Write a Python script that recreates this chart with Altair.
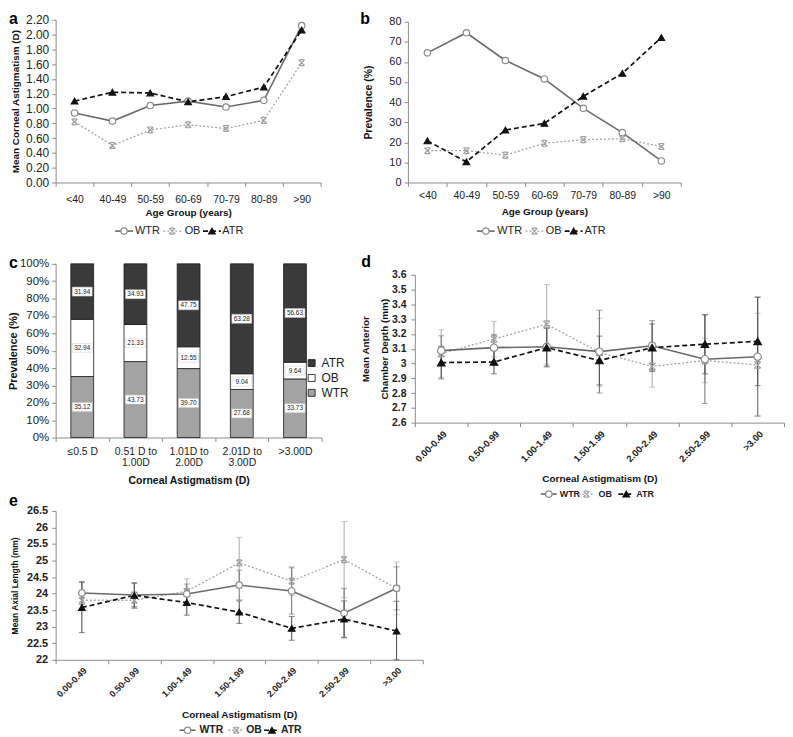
import altair as alt
import pandas as pd

SERIES = ["WTR", "OB", "ATR"]

# ---------------- panel a / b : by age group ----------------
AGE_GROUPS = ["<40", "40-49", "50-59", "60-69", "70-79", "80-89", ">90"]
A_WTR = [0.94, 0.83, 1.04, 1.10, 1.02, 1.11, 2.12]
A_OB = [0.82, 0.50, 0.71, 0.78, 0.73, 0.84, 1.62]
A_ATR = [1.10, 1.22, 1.21, 1.09, 1.16, 1.29, 2.06]
A_TICKS = [0.0, 0.2, 0.4, 0.6, 0.8, 1.0, 1.2, 1.4, 1.6, 1.8, 2.0, 2.2]

B_WTR = [64.5, 74.5, 60.7, 51.5, 36.9, 24.8, 10.7]
B_OB = [15.8, 15.8, 13.6, 19.5, 21.3, 21.8, 17.9]
B_ATR = [20.7, 10.3, 26.1, 29.4, 42.9, 54.3, 72.1]
B_TICKS = [0, 10, 20, 30, 40, 50, 60, 70, 80]

# ---------------- panel c : stacked prevalence ----------------
C_GROUPS = ["≤0.5 D", "0.51 D to\n1.00D", "1.01D to\n2.00D", "2.01D to\n3.00D", ">3.00D"]
C_WTR = [35.12, 43.73, 39.70, 27.68, 33.73]
C_OB = [32.94, 21.33, 12.55, 9.04, 9.64]
C_ATR = [31.94, 34.93, 47.75, 63.28, 56.63]
C_TICKS = [0, 10, 20, 30, 40, 50, 60, 70, 80, 90, 100]

# ---------------- panel d / e : by corneal astigmatism ----------------
CA_GROUPS = ["0.00-0.49", "0.50-0.99", "1.00-1.49", "1.50-1.99", "2.00-2.49", "2.50-2.99", ">3.00"]
D_WTR = [3.087, 3.107, 3.113, 3.080, 3.120, 3.029, 3.046]
D_WTR_SD = [0.10, 0.09, 0.13, 0.28, 0.17, 0.30, 0.40]
D_OB = [3.067, 3.165, 3.265, 3.075, 2.980, 3.020, 2.990]
D_OB_SD = [0.16, 0.12, 0.27, 0.23, 0.14, 0.15, 0.35]
D_ATR = [3.006, 3.010, 3.107, 3.020, 3.107, 3.130, 3.150]
D_ATR_SD = [0.11, 0.08, 0.13, 0.165, 0.16, 0.20, 0.30]
D_TICKS = [2.6, 2.7, 2.8, 2.9, 3.0, 3.1, 3.2, 3.3, 3.4, 3.5, 3.6]

E_WTR = [24.02, 23.96, 23.99, 24.26, 24.08, 23.41, 24.16]
E_WTR_SD = [0.35, 0.35, 0.30, 0.45, 0.70, 0.75, 0.65]
E_OB = [23.80, 23.80, 24.07, 24.93, 24.38, 25.03, 24.16]
E_OB_SD = [0.30, 0.25, 0.38, 0.77, 0.43, 1.15, 0.80]
E_ATR = [23.58, 23.95, 23.73, 23.44, 22.95, 23.23, 22.87]
E_ATR_SD = [0.76, 0.38, 0.38, 0.34, 0.36, 0.55, 0.90]
E_TICKS = [22, 22.5, 23, 23.5, 24, 24.5, 25, 25.5, 26, 26.5]


def long_df(cats, means, sds=None):
    rows = []
    for k, s in enumerate(SERIES):
        for i, c in enumerate(cats):
            row = {"cat": c, "series": s, "order": k, "value": means[k][i]}
            if sds is not None:
                row["sd"] = sds[k][i]
            rows.append(row)
    return pd.DataFrame(rows)


XMARK = "M-1,-1L1,1M-1,1L1,-1M-0.7,-1L0.7,-1M-0.7,1L0.7,1"
BOX = "M-1,-0.45L1,-0.45L1,0.45L-1,0.45Z"
STYLE = {
    "WTR": {"line": "#6a6a6a", "width": 1.6, "dash": None, "shape": "circle",
            "fill": "#ffffff", "stroke": "#8a8a8a", "size": 42, "err": "#7a7a7a"},
    "OB": {"line": "#a3a3a3", "width": 1.3, "dash": [2, 2], "shape": XMARK,
           "fill": None, "stroke": "#a0a0a0", "size": 36, "err": "#b0b0b0"},
    "ATR": {"line": "#111111", "width": 1.7, "dash": [5, 3], "shape": "triangle-up",
            "fill": "#111111", "stroke": "#111111", "size": 44, "err": "#555555"},
}
C_FILL = {"WTR": "#a3a3a3", "OB": "#ffffff", "ATR": "#3a3a3a"}
ONE = pd.DataFrame({"k": [0]})


def line_kw(s):
    st = STYLE[s]
    kw = dict(color=st["line"], strokeWidth=st["width"])
    if st["dash"]:
        kw["strokeDash"] = st["dash"]
    return kw


def point_kw(s, scale=1.0):
    st = STYLE[s]
    kw = dict(shape=st["shape"], size=st["size"] * scale, stroke=st["stroke"],
              strokeWidth=1.2, opacity=1)
    if st["fill"]:
        kw.update(filled=True, fill=st["fill"])
    else:
        kw.update(filled=False)
    return kw


def legend_layers(items, y, font_size, bold, seg):
    out = []
    for s, xm, xt in items:
        base = alt.Chart(ONE)
        out.append(base.mark_rule(**line_kw(s)).encode(
            x=alt.value(xm - seg), x2=alt.value(xm + seg), y=alt.value(y)))
        out.append(base.mark_point(**point_kw(s)).encode(x=alt.value(xm), y=alt.value(y)))
        out.append(base.mark_text(text=s, align="left", baseline="middle", fontSize=font_size,
                                  fontWeight="bold" if bold else "normal", color="#222").encode(
            x=alt.value(xt), y=alt.value(y)))
    return out


def letter(ch, x, y):
    return alt.Chart(ONE).mark_text(text=ch, align="left", baseline="top", fontSize=16,
                                    fontWeight="bold", color="#000").encode(
        x=alt.value(x), y=alt.value(y))


def line_panel(df, cats, x_scale, x_axis, y_scale, y_axis, extra, err_floor=None, mscale=1.0):
    def X():
        return alt.X("cat:N", sort=cats, scale=x_scale, axis=x_axis)

    def Y(f):
        return alt.Y(f, scale=y_scale, axis=y_axis)

    layers = []
    order = ["OB", "WTR", "ATR"]
    if err_floor is not None:
        for s in order:
            col = STYLE[s]["err"]
            eb = alt.Chart(df).transform_filter(alt.datum.series == s).transform_calculate(
                lo=f"max(datum.value - datum.sd, {err_floor})", hi="datum.value + datum.sd")
            layers.append(eb.mark_rule(color=col, strokeWidth=1.1).encode(x=X(), y=Y("lo:Q"), y2="hi:Q"))
            layers.append(eb.mark_tick(color=col, size=6, thickness=1).encode(x=X(), y=Y("lo:Q")))
            layers.append(eb.mark_tick(color=col, size=6, thickness=1).encode(x=X(), y=Y("hi:Q")))
    for s in order:
        sub = alt.Chart(df).transform_filter(alt.datum.series == s)
        layers.append(sub.mark_line(**line_kw(s)).encode(x=X(), y=Y("value:Q")))
    for s in order:
        sub = alt.Chart(df).transform_filter(alt.datum.series == s)
        layers.append(sub.mark_point(**point_kw(s, mscale)).encode(x=X(), y=Y("value:Q")))
    return alt.layer(*(layers + extra))


# ---------- panel a ----------
band = dict(type="band", paddingInner=0, paddingOuter=0)
pa = line_panel(
    long_df(AGE_GROUPS, [A_WTR, A_OB, A_ATR]), AGE_GROUPS,
    alt.Scale(**band),
    alt.Axis(title="Age Group (years)", labelAngle=0, tickBand="extent", labelBaseline="middle",
             labelPadding=13, labelFontSize=10.5, titleY=30.5, titleBaseline="middle", titleFontSize=10),
    alt.Scale(domain=[0, 2.2], nice=False),
    alt.Axis(title="Mean Corneal Astigmatism (D)", values=A_TICKS, format=".2f", labelPadding=3,
             labelFontSize=12, titleX=-35, titleFontSize=10),
    legend_layers([("WTR", 69, 80), ("OB", 117.5, 130), ("ATR", 157.5, 168)], 213, 11, False, 9)
    + [letter("a", -47, -9)],
).properties(width=267, height=164)

# ---------- panel b ----------
pb = line_panel(
    long_df(AGE_GROUPS, [B_WTR, B_OB, B_ATR]), AGE_GROUPS,
    alt.Scale(**band),
    alt.Axis(title="Age Group (years)", labelAngle=0, tickBand="extent", labelBaseline="middle",
             labelPadding=9, labelFontSize=10.5, titleY=29.5, titleBaseline="middle", titleFontSize=10),
    alt.Scale(domain=[0, 80], nice=False, range=[164, 2]),
    alt.Axis(title="Prevalence (%)", values=B_TICKS, labelPadding=3, labelFontSize=11,
             titleX=-35, titleFontSize=10.5),
    legend_layers([("WTR", 78.5, 90), ("OB", 127.5, 139), ("ATR", 167, 178)], 213, 11, False, 9)
    + [letter("b", -48, -9)],
).properties(width=275, height=164)

# ---------- panel c ----------
dfc = long_df(C_GROUPS, [C_WTR, C_OB, C_ATR])
xc = alt.X("cat:N", sort=C_GROUPS, scale=alt.Scale(**band),
           axis=alt.Axis(title="Corneal Astigmatism (D)", labelAngle=0, tickBand="extent",
                         labelExpr="split(datum.label, '\\n')", labelBaseline="top",
                         labelPadding=5, labelLineHeight=11, labelFontSize=10.5,
                         titleY=43, titleBaseline="middle", titleFontSize=10.5))
yc_scale = alt.Scale(domain=[0, 100], nice=False, range=[183, 8])
yc_axis = alt.Axis(title="Prevalence (%)", values=C_TICKS, labelExpr="datum.value + '%'",
                   labelPadding=3, labelFontSize=11.5, titleX=-37, titleFontSize=11)
bars = alt.Chart(dfc).mark_bar(width=23, stroke="#1a1a1a", strokeWidth=0.8).encode(
    x=xc,
    y=alt.Y("value:Q", stack="zero", scale=yc_scale, axis=yc_axis),
    color=alt.Color("series:N", scale=alt.Scale(domain=SERIES, range=[C_FILL[s] for s in SERIES]),
                    legend=None),
    order=alt.Order("order:Q", sort="ascending"),
)
lab = alt.Chart(dfc).transform_stack(
    stack="value", groupby=["cat"], as_=["v0", "v1"],
    sort=[alt.SortField("order", order="ascending")],
).transform_calculate(mid="(datum.v0 + datum.v1) / 2")
boxes = lab.mark_point(shape=BOX, size=400, filled=True, fill="#ffffff", stroke="#cfcfcf",
                       strokeWidth=0.5, opacity=1).encode(
    x=xc, y=alt.Y("mid:Q", scale=yc_scale, axis=yc_axis))
texts = lab.mark_text(fontSize=6.5, color="#222", baseline="middle").encode(
    x=xc, y=alt.Y("mid:Q", scale=yc_scale, axis=yc_axis), text=alt.Text("value:Q", format=".2f"))
c_leg = []
for s, yy in zip(["ATR", "OB", "WTR"], [108, 123, 138]):
    c_leg.append(alt.Chart(ONE).mark_point(shape="square", size=49, filled=True, fill=C_FILL[s],
                                           stroke="#111", strokeWidth=0.8, opacity=1).encode(
        x=alt.value(258), y=alt.value(yy)))
    c_leg.append(alt.Chart(ONE).mark_text(text=s, align="left", baseline="middle", fontSize=12,
                                          color="#222").encode(x=alt.value(268), y=alt.value(yy)))
pc = alt.layer(bars, boxes, texts, *c_leg, letter("c", -47, -1)).properties(width=268, height=183)

# ---------- panel d ----------
pd_ = line_panel(
    long_df(CA_GROUPS, [D_WTR, D_OB, D_ATR], [D_WTR_SD, D_OB_SD, D_ATR_SD]), CA_GROUPS,
    alt.Scale(range=[7, 379], **band),
    alt.Axis(title="Corneal Astigmatism (D)", labelAngle=315, labelAlign="right", labelBaseline="top",
             labelFontWeight="bold", labelFontSize=9.5, labelPadding=2, tickBand="extent",
             titleY=56, titleBaseline="middle", titleFontSize=10),
    alt.Scale(domain=[2.6, 3.6], nice=False, zero=False, range=[168, 19]),
    alt.Axis(title=["Mean Anterior", "Chamber Depth (mm)"], values=D_TICKS, format="~g", offset=-7,
             labelFontWeight="bold", labelFontSize=10.5, labelPadding=5, titleX=-45,
             titleFontSize=10, titleLineHeight=19),
    legend_layers([("WTR", 142, 153), ("OB", 180, 192), ("ATR", 220, 230)], 240, 9, True, 8)
    + [letter("d", -47, -2)],
    err_floor=2.6, mscale=1.3,
).properties(width=379, height=168)

# ---------- panel e ----------
pe = line_panel(
    long_df(CA_GROUPS, [E_WTR, E_OB, E_ATR], [E_WTR_SD, E_OB_SD, E_ATR_SD]), CA_GROUPS,
    alt.Scale(range=[0, 370], **band),
    alt.Axis(title="Corneal Astigmatism (D)", labelAngle=315, labelAlign="right", labelBaseline="top",
             labelFontWeight="bold", labelFontSize=9, labelPadding=2, tickBand="extent",
             titleY=55, titleBaseline="middle", titleFontSize=10),
    alt.Scale(domain=[22, 26.5], nice=False, zero=False),
    alt.Axis(title="Mean Axial Length (mm)", values=E_TICKS, format="~g", labelFontWeight="bold",
             labelFontSize=11, labelPadding=4, titleX=-36, titleFontSize=8.5),
    legend_layers([("WTR", 133, 145), ("OB", 182, 192), ("ATR", 218, 227)], 221, 10.5, True, 8)
    + [letter("e", -47, -18)],
    err_floor=22,
).properties(width=268, height=150)

chart = alt.concat(
    pa, pb, pc, pd_, pe, columns=2, spacing={"row": 74, "column": 87}, bounds="flush", align="each"
).properties(padding=0).configure(font="Liberation Sans").configure_view(stroke=None).configure_axis(
    grid=False, domainColor="#8c8c8c", tickColor="#8c8c8c", domainWidth=1, tickWidth=1, tickSize=4,
    labelFontSize=10, labelColor="#222", titleColor="#111", titleFontWeight="bold",
    labelFont="Liberation Sans", titleFont="Liberation Sans",
)

chart.save("out.html", embed_options={"renderer": "svg", "actions": False})
